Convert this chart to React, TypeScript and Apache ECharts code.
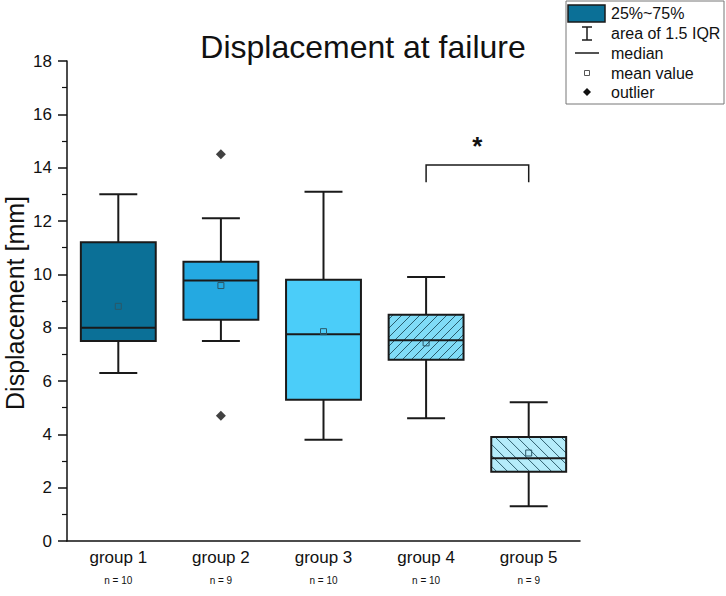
import React, { useRef, useEffect } from 'react';
import * as echarts from 'echarts';

const FONT = "'Liberation Sans', Arial, sans-serif";

// data
const categories = ['group 1', 'group 2', 'group 3', 'group 4', 'group 5'];
const sampleSizes = ['n = 10', 'n = 9', 'n = 10', 'n = 10', 'n = 9'];
const whiskerLow = [6.3, 7.5, 3.8, 4.6, 1.3];
const q1 = [7.5, 8.3, 5.3, 6.8, 2.6];
const medians = [8.0, 9.77, 7.75, 7.53, 3.1];
const q3 = [11.2, 10.47, 9.8, 8.48, 3.9];
const whiskerHigh = [13.0, 12.1, 13.1, 9.9, 5.2];
const means = [8.8, 9.58, 7.85, 7.43, 3.3];
const outliers: [number, number][] = [[1, 14.5], [1, 4.7]];
const yTicks = { min: 0, max: 18, interval: 2 };

// significance bracket between group 4 and group 5
const bracket = [[3, 4, 13.45, 14.1, 15.05]];

const boxColors = ['#0b7097', '#24a9e1', '#4bcdf9', '#80dcf7', '#b5ecfa'];
const hatch = ['', '', '', '/', '\\'];
const hatchGap = [0, 0, 0, 9, 11];

const boxData = categories.map((_, i) => [i, whiskerLow[i], q1[i], medians[i], q3[i], whiskerHigh[i], means[i]]);

function hatchLines(kind: string, gap: number, x0: number, y0: number, x1: number, y1: number) {
  const out: any[] = [];
  if (!kind) return out;
  const style = { stroke: '#1f4f5f', lineWidth: 0.9 };
  if (kind === '/') {
    // x + y = c
    for (let c = x0 + y0 + gap / 2; c < x1 + y1; c += gap) {
      const xa = Math.max(x0, c - y1);
      const xb = Math.min(x1, c - y0);
      if (xb <= xa) continue;
      out.push({ type: 'line', shape: { x1: xa, y1: c - xa, x2: xb, y2: c - xb }, style });
    }
  } else {
    // x - y = c
    for (let c = x0 - y1 + gap / 2; c < x1 - y0; c += gap) {
      const xa = Math.max(x0, c + y0);
      const xb = Math.min(x1, c + y1);
      if (xb <= xa) continue;
      out.push({ type: 'line', shape: { x1: xa, y1: xa - c, x2: xb, y2: xb - c }, style });
    }
  }
  return out;
}

const renderBox = (params: any, api: any) => {
  const idx = api.value(0);
  const cx = api.coord([idx, 0])[0];
  const yLow = api.coord([idx, api.value(1)])[1];
  const yQ1 = api.coord([idx, api.value(2)])[1];
  const yMed = api.coord([idx, api.value(3)])[1];
  const yQ3 = api.coord([idx, api.value(4)])[1];
  const yHigh = api.coord([idx, api.value(5)])[1];
  const yMean = api.coord([idx, api.value(6)])[1];
  const band = api.size([1, 0])[0];
  const bw = band * 0.73;
  const cw = band * 0.37;
  const x0 = cx - bw / 2;
  const x1 = cx + bw / 2;
  const line = { stroke: '#1a1a1a', lineWidth: 2 };
  return {
    type: 'group',
    children: [
      { type: 'line', shape: { x1: cx, y1: yQ3, x2: cx, y2: yHigh }, style: line },
      { type: 'line', shape: { x1: cx, y1: yQ1, x2: cx, y2: yLow }, style: line },
      { type: 'line', shape: { x1: cx - cw / 2, y1: yHigh, x2: cx + cw / 2, y2: yHigh }, style: line },
      { type: 'line', shape: { x1: cx - cw / 2, y1: yLow, x2: cx + cw / 2, y2: yLow }, style: line },
      { type: 'rect', shape: { x: x0, y: yQ3, width: bw, height: yQ1 - yQ3 }, style: { fill: boxColors[idx], stroke: 'none' } },
      ...hatchLines(hatch[idx], hatchGap[idx], x0, yQ3, x1, yQ1),
      { type: 'rect', shape: { x: x0, y: yQ3, width: bw, height: yQ1 - yQ3 }, style: { fill: 'none', stroke: '#1a1a1a', lineWidth: 2 } },
      { type: 'line', shape: { x1: x0, y1: yMed, x2: x1, y2: yMed }, style: line },
      { type: 'rect', shape: { x: cx - 3, y: yMean - 3, width: 6, height: 6 }, style: { fill: 'none', stroke: '#2b5868', lineWidth: 1 } },
    ],
  };
};

const renderBracket = (params: any, api: any) => {
  const a = api.coord([api.value(0), api.value(2)]);
  const b = api.coord([api.value(1), api.value(2)]);
  const top = api.coord([api.value(0), api.value(3)])[1];
  const star = api.coord([api.value(0), api.value(4)])[1];
  return {
    type: 'group',
    children: [
      {
        type: 'polyline',
        shape: { points: [[a[0], a[1]], [a[0], top], [b[0], top], [b[0], b[1]]] },
        style: { fill: 'none', stroke: '#1a1a1a', lineWidth: 1.5 },
      },
      {
        type: 'text',
        style: {
          x: (a[0] + b[0]) / 2, y: star + 6, text: '*', align: 'center', verticalAlign: 'middle',
          fontSize: 26, fontWeight: 'bold', fontFamily: FONT, fill: '#111',
        },
      },
    ],
  };
};

const legendItems = ['25%~75%', 'area of 1.5 IQR', 'median', 'mean value', 'outlier'];
const legendRows = [13, 33, 53, 73, 92];

const App: React.FC = () => {
  const chartRef = useRef<HTMLDivElement>(null);

  useEffect(() => {
    if (!chartRef.current) return;
    const chart = echarts.init(chartRef.current, undefined, { renderer: 'svg' });
    const ix = 587;
    chart.setOption({
      animation: false,
      backgroundColor: '#fff',
      title: {
        text: 'Displacement at failure',
        left: 'center',
        top: 26,
        textStyle: { fontSize: 32, fontWeight: 'normal', fontFamily: FONT, color: '#111' },
      },
      grid: { left: 67, right: 146, top: 61, bottom: 55, outerBoundsMode: 'none', containLabel: false },
      xAxis: {
        type: 'category',
        data: categories,
        axisLine: { lineStyle: { color: '#111', width: 1.5 } },
        axisTick: { alignWithLabel: true, length: 7, lineStyle: { color: '#111', width: 1.5 } },
        axisLabel: {
          margin: 5,
          formatter: (v: string, i: number) => `{g|${v}}\n{n|${sampleSizes[i]}}`,
          rich: {
            g: { fontSize: 17, lineHeight: 22, fontFamily: FONT, color: '#111' },
            n: { fontSize: 10, lineHeight: 24, fontFamily: FONT, color: '#111' },
          },
        },
      },
      yAxis: {
        type: 'value',
        min: yTicks.min,
        max: yTicks.max,
        interval: yTicks.interval,
        axisLine: { show: true, lineStyle: { color: '#111', width: 1.5 } },
        axisTick: { show: true, length: 9, lineStyle: { color: '#111', width: 1.5 } },
        minorTick: { show: true, splitNumber: 2, length: 5, lineStyle: { color: '#111', width: 1.2 } },
        splitLine: { show: false },
        axisLabel: { fontSize: 17, fontFamily: FONT, color: '#111', margin: 15 },
      },
      series: [
        {
          type: 'custom',
          renderItem: renderBox,
          data: boxData,
          encode: { x: 0, y: [1, 2, 3, 4, 5, 6] },
          silent: true,
        },
        {
          type: 'scatter',
          data: outliers,
          symbol: 'diamond',
          symbolSize: 10,
          itemStyle: { color: '#111' },
          silent: true,
        },
        {
          type: 'custom',
          renderItem: renderBracket,
          data: bracket,
          encode: { x: [0, 1], y: [2, 3, 4] },
          silent: true,
        },
      ],
      graphic: [
        {
          type: 'text',
          x: 15,
          y: 303,
          rotation: Math.PI / 2,
          style: {
            text: 'Displacement [mm]', align: 'center', verticalAlign: 'middle',
            fontSize: 25, fontFamily: FONT, fill: '#111',
          },
        },
        { type: 'rect', shape: { x: 566, y: 1, width: 158, height: 103 }, style: { fill: '#fff', stroke: '#777', lineWidth: 1 } },
        { type: 'rect', shape: { x: 568, y: 5, width: 37, height: 17 }, style: { fill: boxColors[0], stroke: '#1a1a1a', lineWidth: 1.5 } },
        { type: 'line', shape: { x1: ix, y1: 27, x2: ix, y2: 40 }, style: { stroke: '#1a1a1a', lineWidth: 1.5 } },
        { type: 'line', shape: { x1: ix - 5, y1: 27, x2: ix + 5, y2: 27 }, style: { stroke: '#1a1a1a', lineWidth: 1.5 } },
        { type: 'line', shape: { x1: ix - 5, y1: 40, x2: ix + 5, y2: 40 }, style: { stroke: '#1a1a1a', lineWidth: 1.5 } },
        { type: 'line', shape: { x1: 575, y1: 53, x2: 599, y2: 53 }, style: { stroke: '#1a1a1a', lineWidth: 1.5 } },
        { type: 'rect', shape: { x: ix - 2.5, y: 70.5, width: 5, height: 5 }, style: { fill: 'none', stroke: '#555', lineWidth: 1 } },
        { type: 'polygon', shape: { points: [[ix, 88], [ix + 4, 92], [ix, 96], [ix - 4, 92]] }, style: { fill: '#111' } },
        ...legendItems.map((t, i) => ({
          type: 'text',
          style: { x: 611, y: legendRows[i], text: t, fontSize: 16, fontFamily: FONT, fill: '#111', verticalAlign: 'middle' },
        })),
      ],
    });
    return () => { chart.dispose(); };
  }, []);

  return (
    <div
      ref={chartRef}
      style={{ position: 'absolute', left: 0, top: 0, width: 726, height: 596 }}
      aria-label="Displacement at failure box plot"
      role="img"
    />
  );
};

export default App;
